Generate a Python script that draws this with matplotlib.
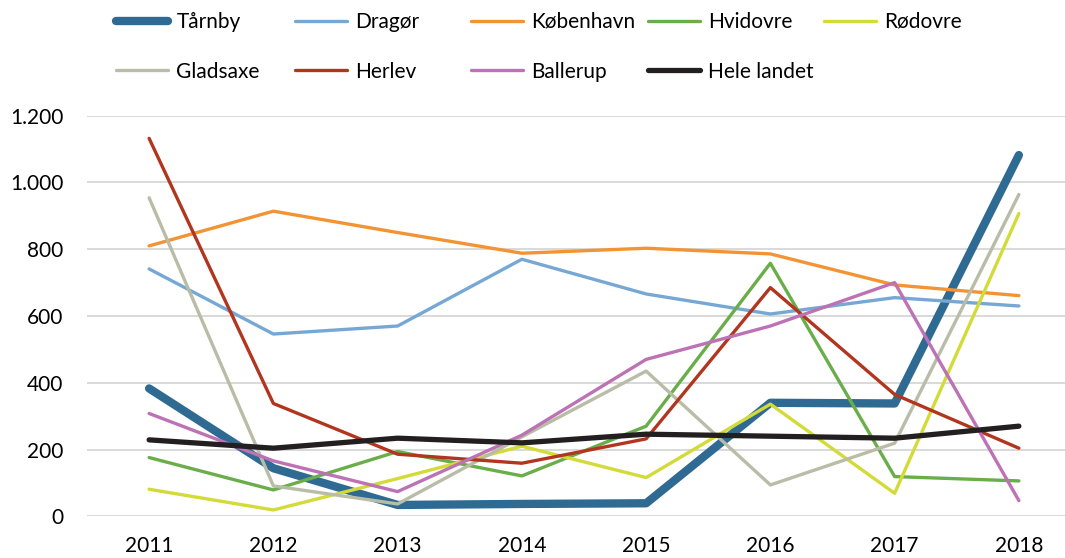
import matplotlib
matplotlib.use("Agg")
import matplotlib.pyplot as plt
from matplotlib.ticker import FuncFormatter

years = ["2011", "2012", "2013", "2014", "2015", "2016", "2017", "2018"]

taarnby = [383, 144, 34, 37, 39, 340, 338, 1082]
dragoer = [741, 546, 570, 770, 666, 606, 655, 630]
koebenhavn = [810, 914, 850, 788, 803, 786, 693, 661]
hvidovre = [176, 79, 194, 121, 270, 758, 119, 106]
roedovre = [81, 19, 113, 210, 116, 336, 69, 907]
gladsaxe = [954, 91, 37, 238, 435, 94, 219, 964]
herlev = [1132, 338, 186, 159, 232, 685, 365, 204]
ballerup = [308, 166, 74, 243, 470, 570, 700, 47]
hele_landet = [229, 204, 234, 220, 246, 240, 234, 270]

names = ["Tårnby", "Dragør", "København", "Hvidovre", "Rødovre",
         "Gladsaxe", "Herlev", "Ballerup", "Hele landet"]
series = [taarnby, dragoer, koebenhavn, hvidovre, roedovre,
          gladsaxe, herlev, ballerup, hele_landet]
colors = ["#2F6A93", "#77A8D4", "#F39434", "#6AAE4A", "#D3DB38",
          "#B9BCA7", "#B2361F", "#BC72B4", "#231F20"]
widths = [6.0, 2.4, 2.4, 2.4, 2.4, 2.4, 2.4, 2.4, 3.8]

plt.rcParams['font.family'] = ['Lato', 'DejaVu Sans']

fig = plt.figure(figsize=(10.65, 5.58), dpi=100)
L, R = 87 / 1065, 1081 / 1065
B, T = 1 - 516.3 / 558, 1 - 115.7 / 558
ax = fig.add_axes([L, B, R - L, T - B])

x = list(range(len(years)))
lines = []
for name, vals, c, w in zip(names, series, colors, widths):
    ln, = ax.plot(x, vals, color=c, lw=w, label=name,
                  solid_capstyle='round', solid_joinstyle='round', zorder=3)
    lines.append(ln)

ax.set_xlim(-0.5, len(years) - 0.5)
ax.set_ylim(0, 1200)
ax.set_yticks(range(0, 1201, 200))
ax.yaxis.set_major_formatter(FuncFormatter(lambda v, p: f"{int(v):,}".replace(",", ".")))
ax.set_xticks(x)
ax.set_xticklabels(years)
ax.grid(axis='y', color='#D9D9D9', lw=1.4, zorder=0)
for s in ax.spines.values():
    s.set_visible(False)
ax.tick_params(axis='y', length=0, pad=17, labelsize=15, colors='black')
ax.tick_params(axis='x', length=0, pad=14, labelsize=15, colors='black')

# legend: two rows, columns at fixed spacing
cols = [[0, 5], [1, 6], [2, 7], [3, 8], [4]]
col_x = [116, 295, 471, 648, 824]
for cx, idxs in zip(col_x, cols):
    fig.legend([lines[i] for i in idxs], [names[i] for i in idxs],
               loc='upper left', bbox_to_anchor=(cx / 1065, 1 - 12 / 558),
               frameon=False, fontsize=15, handlelength=2.5,
               handletextpad=0.4, labelspacing=1.42, borderpad=0,
               borderaxespad=0)

fig.savefig("out.png", dpi=100)
